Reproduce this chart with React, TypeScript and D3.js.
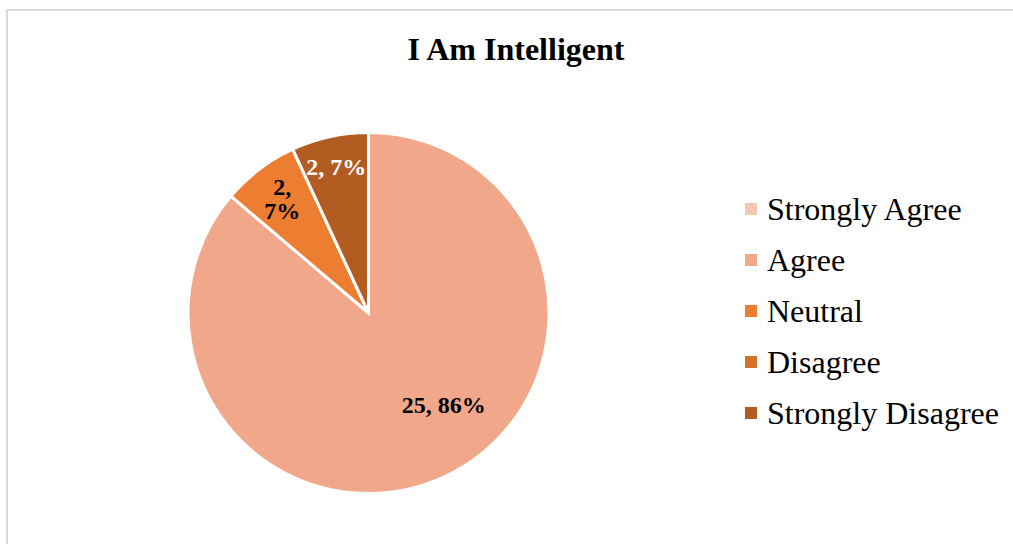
import React from "react";
import * as d3 from "d3";

const categories = ["Strongly Agree", "Agree", "Neutral", "Disagree", "Strongly Disagree"];
const counts = [0, 25, 2, 0, 2];
const colors = ["#F5C6B2", "#F1A88A", "#ED7D31", "#D4712D", "#B35C22"];
const title = "I Am Intelligent";

const width = 1013;
const height = 544;
const cx = 368.5;
const cy = 313;
const radius = 180.5;

const App = () => {
  const total = d3.sum(counts);
  const pie = d3
    .pie<number>()
    .sort(null)
    .value((d) => d);
  const arcs = pie(counts);
  const arc = d3.arc<d3.PieArcDatum<number>>().innerRadius(0).outerRadius(radius);

  const legendY = d3
    .scalePoint<string>()
    .domain(categories)
    .range([209, 413]);

  const font = "'Liberation Serif', 'Times New Roman', serif";

  return (
    <div style={{ position: "absolute", left: 0, top: 0 }}>
      <svg width={width} height={height} style={{ display: "block" }}>
        <rect x={0} y={0} width={width} height={height} fill="#fff" />
        {/* chart frame, cut off at right and bottom */}
        <rect
          x={7}
          y={10}
          width={width + 20}
          height={height + 20}
          fill="none"
          stroke="#D9D9D9"
          strokeWidth={2}
        />
        <text
          x={516}
          y={60}
          textAnchor="middle"
          fontFamily={font}
          fontWeight="bold"
          fontSize={32}
          fill="#000"
        >
          {title}
        </text>

        <g transform={`translate(${cx},${cy})`}>
          {arcs.map((a, i) =>
            a.value > 0 ? (
              <path key={i} d={arc(a) || ""} fill={colors[i]} stroke="#fff" strokeWidth={3} />
            ) : null
          )}
          {arcs.map((a, i) => {
            if (a.value <= 0) return null;
            const big = a.endAngle - a.startAngle > Math.PI;
            const mid = (a.startAngle + a.endAngle) / 2 - (big ? 0.25 : 0);
            const r = big ? radius * 0.66 : radius * (i === 2 ? 0.79 : 0.83);
            const x = Math.sin(mid) * r;
            const y = -Math.cos(mid) * r;
            const pct = Math.round((a.value / total) * 100);
            const fill = i === 4 ? "#fff" : "#000";
            const lines = i === 2 ? [`${a.value},`, `${pct}%`] : [`${a.value}, ${pct}%`];
            const lh = 24;
            return (
              <text
                key={`l${i}`}
                textAnchor="middle"
                fontFamily={font}
                fontWeight="bold"
                fontSize={24}
                fill={fill}
              >
                {lines.map((t, j) => (
                  <tspan key={j} x={x} y={y + (j - (lines.length - 1) / 2) * lh + 8}>
                    {t}
                  </tspan>
                ))}
              </text>
            );
          })}
        </g>

        <g>
          {categories.map((c, i) => (
            <g key={c} transform={`translate(745,${legendY(c)})`}>
              <rect x={0} y={-6} width={12} height={12} fill={colors[i]} />
              <text x={22} y={11} fontFamily={font} fontSize={32} fill="#000">
                {c}
              </text>
            </g>
          ))}
        </g>
      </svg>
    </div>
  );
};

export default App;
